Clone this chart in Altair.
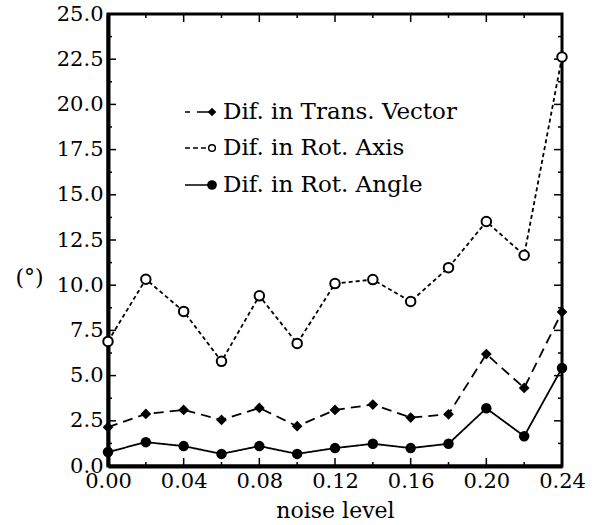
import altair as alt
import pandas as pd

noise = [0.00, 0.02, 0.04, 0.06, 0.08, 0.10, 0.12, 0.14, 0.16, 0.18, 0.20, 0.22, 0.24]
trans_vector = [2.15, 2.88, 3.10, 2.55, 3.21, 2.20, 3.10, 3.40, 2.68, 2.86, 6.19, 4.32, 8.52]
rot_axis = [6.89, 10.33, 8.55, 5.79, 9.41, 6.78, 10.09, 10.31, 9.10, 10.97, 13.52, 11.66, 22.62]
rot_angle = [0.77, 1.32, 1.10, 0.67, 1.10, 0.67, 0.99, 1.23, 0.99, 1.23, 3.19, 1.65, 5.42]

series_names = ["Dif. in Trans. Vector", "Dif. in Rot. Axis", "Dif. in Rot. Angle"]
x_major = [0.00, 0.04, 0.08, 0.12, 0.16, 0.20, 0.24]
x_minor = [0.02, 0.06, 0.10, 0.14, 0.18, 0.22]
y_major = [0.0, 2.5, 5.0, 7.5, 10.0, 12.5, 15.0, 17.5, 20.0, 22.5, 25.0]
y_minor = [1.25, 3.75, 6.25, 8.75, 11.25, 13.75, 16.25, 18.75, 21.25, 23.75]

rows = []
for name, vals in zip(series_names, [trans_vector, rot_axis, rot_angle]):
    for n, v in zip(noise, vals):
        rows.append({"noise": n, "value": v, "series": name})
df = pd.DataFrame(rows)

FONT = "DejaVu Serif"
W, H = 454, 452
MAJOR, MINOR = 8, 4

xscale = alt.Scale(domain=[0, 0.24], nice=False, zero=False)
yscale = alt.Scale(domain=[0, 25], nice=False)

base = alt.Chart(df)

lines = base.mark_line(color="black", strokeWidth=1.8).encode(
    x=alt.X("noise:Q", scale=xscale,
            axis=alt.Axis(orient="bottom", values=x_major, format=".2f", ticks=False,
                          domainColor="black", domainWidth=4, grid=False,
                          labelFont=FONT, labelFontSize=21, labelColor="black",
                          labelPadding=4, labelFlush=False, labelOverlap=False,
                          title="noise level", titleFont=FONT, titleFontSize=22,
                          titleFontWeight="normal", titleColor="black",
                          titleY=51, titleBaseline="alphabetic")),
    y=alt.Y("value:Q", scale=yscale,
            axis=alt.Axis(orient="left", values=y_major, format=".1f", ticks=False,
                          domainColor="black", domainWidth=4, grid=False,
                          labelFont=FONT, labelFontSize=21, labelColor="black",
                          labelPadding=5, labelFlush=False, labelOverlap=False,
                          title="(°)", titleFont=FONT, titleFontSize=22,
                          titleFontWeight="normal", titleColor="black", titleAngle=0,
                          titleX=-93, titleY=263, titleAlign="left",
                          titleBaseline="middle")),
    strokeDash=alt.StrokeDash("series:N",
                              scale=alt.Scale(domain=series_names,
                                              range=[[10, 6], [4, 3], [1, 0]]),
                              legend=None),
    detail="series:N",
)


def series_points(name, **mark):
    return base.transform_filter(alt.datum.series == name).mark_point(**mark).encode(
        x=alt.X("noise:Q", scale=xscale),
        y=alt.Y("value:Q", scale=yscale),
    )


pts_tv = series_points(series_names[0], shape="diamond", filled=True, color="black",
                       size=115, opacity=1)
pts_ra = series_points(series_names[1], shape="circle", fill="white", stroke="black",
                       strokeWidth=2, size=90, opacity=1)
pts_rg = series_points(series_names[2], shape="circle", filled=True, color="black",
                       size=110, opacity=1)


# inward tick marks on all four sides, placed through the shared scales
def x_ticks(values, length, top):
    d = pd.DataFrame({"tickpos": values})
    return alt.Chart(d).mark_rule(color="black", strokeWidth=1.5).encode(
        x=alt.X("tickpos:Q", scale=xscale),
        y=alt.value(0 if top else H),
        y2=alt.value(length if top else H - length),
    )


def y_ticks(values, length, right):
    d = pd.DataFrame({"tickpos": values})
    return alt.Chart(d).mark_rule(color="black", strokeWidth=1.5).encode(
        y=alt.Y("tickpos:Q", scale=yscale),
        x=alt.value(W if right else 0),
        x2=alt.value(W - length if right else length),
    )


tick_layers = []
for side in (False, True):
    tick_layers += [x_ticks(x_major, MAJOR, side), x_ticks(x_minor, MINOR, side),
                    y_ticks(y_major, MAJOR, side), y_ticks(y_minor, MINOR, side)]

# legend: line sample + marker + label for each series
LEG_X0, LEG_X1, LEG_MARK, LEG_TEXT = 77, 101, 104, 115
LEG_ROWS = [98, 134, 171]
leg_dash = [[5, 7, 15, 7], [5, 3], [1, 0]]
leg_marks = [dict(shape="diamond", filled=True, color="black", size=75),
             dict(shape="circle", fill="white", stroke="black", strokeWidth=1.5, size=45),
             dict(shape="circle", filled=True, color="black", size=95)]

legend_layers = []
for name, ly, dash, mk in zip(series_names, LEG_ROWS, leg_dash, leg_marks):
    ld = pd.DataFrame({"label": [name]})
    legend_layers.append(alt.Chart(ld).mark_rule(color="black", strokeWidth=1.5,
                                                 strokeDash=dash).encode(
        x=alt.value(LEG_X0), x2=alt.value(LEG_X1), y=alt.value(ly)))
    legend_layers.append(alt.Chart(ld).mark_point(opacity=1, **mk).encode(
        x=alt.value(LEG_MARK), y=alt.value(ly)))
    legend_layers.append(alt.Chart(ld).mark_text(align="left", baseline="middle",
                                                 font=FONT, fontSize=23,
                                                 color="black").encode(
        text="label:N", x=alt.value(LEG_TEXT), y=alt.value(ly)))

chart = alt.layer(lines, *tick_layers, pts_tv, pts_ra, pts_rg, *legend_layers).properties(
    width=W, height=H, autosize="none",
    padding={"left": 108, "top": 14, "right": 31, "bottom": 59},
    background="white",
).configure_view(stroke="black", strokeWidth=3)

chart.save("out.html", embed_options={"renderer": "svg", "actions": False})
